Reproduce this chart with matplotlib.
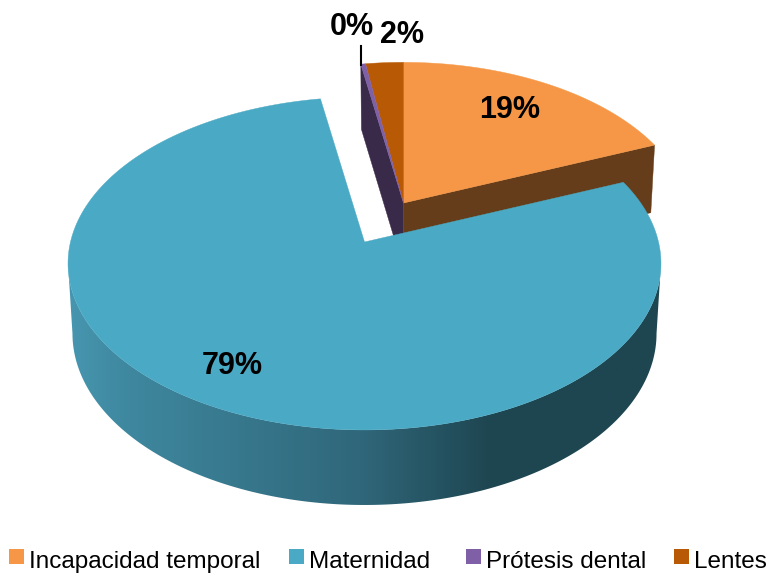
#!/usr/bin/env python3
"""3D style exploded pie, drawn as projected polygons in pixel coordinates."""

import numpy as np
import matplotlib
matplotlib.use("Agg")
import matplotlib.pyplot as plt
from matplotlib.patches import Polygon, Rectangle

categories = ["Incapacidad temporal", "Maternidad", "Prótesis dental", "Lentes"]
values = [18.75, 78.55, 0.3, 2.4]
top_colors = ["#f59746", "#4aa9c4", "#7f60a6", "#b85a05"]
side_colors = ["#663d1a", "#4aa9c4", "#3a2a4a", "#7a3c03"]

# perspective of the disc
K = 0.129
S = 294.0
A = 163.7
DEPTH = 69.4
BOTTOM_SX = 0.985
BOTTOM_SY = 1.03

plt.rcParams["font.family"] = ["Liberation Sans", "DejaVu Sans"]


def proj(theta, center, scale=1.0, bottom=False):
    t = np.radians(theta)
    u, v = np.sin(t), np.cos(t)
    w = 1 + K * v
    sx = BOTTOM_SX if bottom else 1.0
    sy = BOTTOM_SY if bottom else 1.0
    x = center[0] + S * scale * sx * u / w
    y = center[1] - A * scale * sy * v / w + (DEPTH if bottom else 0.0)
    return np.column_stack([x, y])


def arc(t0, t1, center, scale=1.0, bottom=False):
    n = max(2, int(abs(t1 - t0) * 2))
    return proj(np.linspace(t0, t1, n), center, scale, bottom)


fig = plt.figure(figsize=(7.7, 5.73), dpi=100)
ax = fig.add_axes([0, 0, 1, 1])
ax.set_xlim(0, 770)
ax.set_ylim(573, 0)
ax.axis("off")

# slice angles, clockwise from north
edges = np.concatenate([[0], np.cumsum(values)]) * 3.6
orange = (edges[0], edges[1])
blue = (edges[1], edges[2])
purple = (edges[2], edges[3])
brown = (edges[3], edges[4])

small_c = (403.5, 203.0)
small_s = 0.97
blue_c = (364.5, 242.0)


def cut_face(theta, color):
    top = proj(np.array([theta]), small_c, small_s)[0]
    low = proj(np.array([theta]), small_c, small_s, bottom=True)[0]
    apex_low = (small_c[0], small_c[1] + 66)
    ax.add_patch(Polygon([small_c, top, low, apex_low], fc=color, ec=color, lw=0.3))


def wedge(t0, t1, center, scale, color):
    pts = np.vstack([[center], arc(t0, t1, center, scale)])
    ax.add_patch(Polygon(pts, fc=color, ec=color, lw=0.3))


# the small exploded group first, the big slice covers its lower part
cut_face(purple[0], side_colors[2])
cut_face(orange[1], side_colors[0])
wedge(*orange, small_c, small_s, top_colors[0])
wedge(*brown, small_c, small_s, top_colors[3])
wedge(*purple, small_c, small_s, top_colors[2])

# side wall of the big slice, between the two silhouette points of the disc
wall_a = np.degrees(np.arccos(-K))
wall_b = 360 - wall_a
wall = np.vstack([arc(wall_a, wall_b, blue_c), arc(wall_a, wall_b, blue_c, bottom=True)[::-1]])
wall_patch = Polygon(wall, fc="none", ec="none")
ax.add_patch(wall_patch)
grad_x = np.linspace(60, 670, 400)
grad = np.column_stack([
    np.interp(grad_x, [60, 130, 360, 490, 670], [72, 62, 48, 30, 30]),
    np.interp(grad_x, [60, 130, 360, 490, 670], [152, 135, 103, 70, 70]),
    np.interp(grad_x, [60, 130, 360, 490, 670], [178, 158, 122, 81, 81]),
]) / 255
im = ax.imshow(grad[np.newaxis, :, :], extent=[60, 670, 520, 200], aspect="auto", zorder=1)
im.set_clip_path(wall_patch)
ax.set_xlim(0, 770)
ax.set_ylim(573, 0)

pts = np.vstack([[blue_c], arc(*blue, blue_c)])
ax.add_patch(Polygon(pts, fc=top_colors[1], ec=top_colors[1], lw=0.3, zorder=2))

# labels
label_pos = [(510, 110), (232, 366), (352, 27), (402, 35)]
for val, (lx, ly) in zip(values, label_pos):
    ax.text(lx, ly, f"{val:.0f}%", fontsize=22, fontweight="bold", color="black",
            ha="center", va="center", zorder=5)
ax.plot([360.5, 360.5], [46, 65], color="black", lw=1.5, zorder=5)

# legend
legend_x = [9, 289, 466, 674]
for name, col, lx in zip(categories, top_colors, legend_x):
    ax.add_patch(Rectangle((lx, 549), 15, 15, fc=col, ec="none", zorder=5))
    ax.text(lx + 20, 568, name, fontsize=17.5, color="black", ha="left",
            va="baseline", zorder=5)

fig.savefig("out.png", dpi=100)
